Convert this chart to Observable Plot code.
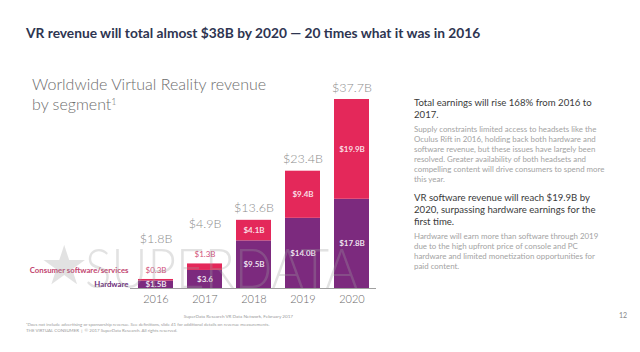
<!DOCTYPE html>
<html><head><meta charset="utf-8">
<script src="https://cdn.jsdelivr.net/npm/d3@7"></script>
<script src="https://cdn.jsdelivr.net/npm/@observablehq/plot@0.6"></script>
<style>
html,body{margin:0;padding:0;background:#fff;}
#page{position:relative;width:640px;height:352px;overflow:hidden;font-family:Lato,"Open Sans",sans-serif;}
#title{position:absolute;left:26px;top:24px;font-size:13.75px;font-weight:700;color:#2e3551;line-height:18px;white-space:nowrap;}
#subtitle{position:absolute;left:32px;top:74px;font-size:16px;font-weight:300;color:#6d6d6d;line-height:20px;white-space:nowrap;}
#subtitle sup{font-size:9px;vertical-align:top;position:relative;top:-2px;}
#chart{position:absolute;left:0;top:60px;}
#wm{position:absolute;left:0;top:0;pointer-events:none;z-index:2;}
#notes{position:absolute;left:414px;top:97px;width:200px;white-space:nowrap;}
#notes .h{font-size:9.6px;color:#3a3a3a;line-height:12px;}
#notes .b{font-size:7.9px;color:#a3a3a3;line-height:10px;margin-top:3px;}
#notes .h2{margin-top:8px;}
#source{position:absolute;right:347px;top:313px;font-size:4.6px;color:#9a9a9a;white-space:nowrap;}
#foot{position:absolute;left:26px;top:322px;font-size:4.4px;color:#9a9a9a;line-height:5.5px;white-space:nowrap;}
#pg{position:absolute;left:619px;top:311px;font-size:7px;color:#888;}
</style></head><body>
<div id="page">
  <div id="title">VR revenue will total almost $38B by 2020 — 20 times what it was in 2016</div>
  <div id="subtitle">Worldwide Virtual Reality revenue<br>by segment<sup>1</sup></div>
  <div id="chart"></div>
  <svg id="wm" width="640" height="352">
    <text x="40" y="284" font-size="54" font-family="DejaVu Sans" fill="rgba(160,160,160,0.3)">★</text>
    <text x="85" y="288" font-size="56" font-weight="300" font-family="Lato, sans-serif" textLength="273" lengthAdjust="spacingAndGlyphs" fill="rgba(160,160,160,0.3)">SUPERDATA</text>
  </svg>
  <div id="notes">
    <div class="h">Total earnings will rise 168% from 2016 to<br>2017.</div>
    <div class="b">Supply constraints limited access to headsets like the<br>Oculus Rift in 2016, holding back both hardware and<br>software revenue, but these issues have largely been<br>resolved. Greater availability of both headsets and<br>compelling content will drive consumers to spend more<br>this year.</div>
    <div class="h h2">VR software revenue will reach $19.9B by<br>2020, surpassing hardware earnings for the<br>first time.</div>
    <div class="b">Hardware will earn more than software through 2019<br>due to the high upfront price of console and PC<br>hardware and limited monetization opportunities for<br>paid content.</div>
  </div>
  <div id="source">SuperData Research VR Data Network, February 2017</div>
  <div id="foot">¹Does not include advertising or sponsorship revenue. See definitions, slide 41 for additional details on revenue measurements.<br>THE VIRTUAL CONSUMER &nbsp;| &nbsp;© 2017 SuperData Research. All rights reserved.</div>
  <div id="pg">12</div>
</div>
<script>
const years = ["2016", "2017", "2018", "2019", "2020"];
const hardware = [1.5, 3.6, 9.5, 14.0, 17.8];
const software = [0.3, 1.3, 4.1, 9.4, 19.9];
const totals = [1.8, 4.9, 13.6, 23.4, 37.7];
const hardwareLabels = ["$1.5B", "$3.6", "$9.5B", "$14.0B", "$17.8B"];
const softwareLabels = ["$0.3B", "$1.3B", "$4.1B", "$9.4B", "$19.9B"];
const totalLabels = ["$1.8B", "$4.9B", "$13.6B", "$23.4B", "$37.7B"];
const segments = ["Hardware", "Consumer software/services"];
const segmentColors = ["#7c2a7e", "#e4285a"];

const rows = years.flatMap((year, i) => [
  {year, segment: segments[0], value: hardware[i]},
  {year, segment: segments[1], value: software[i]}
]);
const isSmall = i => software[i] < 2;
const idx = years.map((_, i) => i);
const hwText = idx.map(i => ({year: years[i], y: hardware[i] / 2, text: hardwareLabels[i]}));
const swInside = idx.filter(i => !isSmall(i)).map(i => ({year: years[i], y: hardware[i] + software[i] / 2, text: softwareLabels[i]}));
const swAbove = idx.filter(i => isSmall(i)).map(i => ({year: years[i], y: totals[i], text: softwareLabels[i]}));
const totHigh = idx.filter(i => isSmall(i)).map(i => ({year: years[i], y: totals[i], text: totalLabels[i]}));
const totLow = idx.filter(i => !isSmall(i)).map(i => ({year: years[i], y: totals[i], text: totalLabels[i]}));

const chart = Plot.plot({
  width: 390, height: 250,
  marginTop: 39, marginBottom: 22, marginLeft: 130, marginRight: 14,
  x: {type: "band", domain: years, paddingInner: 0.29, paddingOuter: 0.142, label: null},
  y: {domain: [0, 37.7], axis: null},
  color: {domain: segments, range: segmentColors},
  style: {fontFamily: "Lato, sans-serif", background: "transparent", overflow: "visible"},
  marks: [
    Plot.barY(rows, {x: "year", y: "value", fill: "segment"}),
    Plot.ruleY([0], {stroke: "#a0a0a0", strokeWidth: 1}),
    Plot.axisX({tickSize: 0, tickPadding: 7, fontSize: 11, fontWeight: 300, color: "#6a6a6a", label: null}),
    Plot.text(hwText, {x: "year", y: "y", text: "text", fill: "#fff", fillOpacity: 0.88, fontSize: 8, fontWeight: 700}),
    Plot.text(swInside, {x: "year", y: "y", text: "text", fill: "#fff", fillOpacity: 0.85, fontSize: 8, fontWeight: 700}),
    Plot.text(swAbove, {x: "year", y: "y", text: "text", dy: -9, fill: "#d2507a", fontSize: 8}),
    Plot.text(totHigh, {x: "year", y: "y", text: "text", dy: -40, fill: "#8c8c8c", fontSize: 12.5, fontWeight: 300}),
    Plot.text(totLow, {x: "year", y: "y", text: "text", dy: -12, fill: "#8c8c8c", fontSize: 12.5, fontWeight: 300}),
    Plot.text([{year: years[0], y: hardware[0] / 2}], {x: "year", y: "y", text: () => segments[0], textAnchor: "end", dx: -27.5, fill: "#6a2a78", fontSize: 7.8, fontWeight: 700}),
    Plot.text([{year: years[0], y: totals[0]}], {x: "year", y: "y", text: () => segments[1], textAnchor: "end", dx: -27.5, dy: -9, fill: "#c2456f", fontSize: 7.8, fontWeight: 700})
  ]
});
document.getElementById("chart").appendChild(chart);
</script>
</body></html>
